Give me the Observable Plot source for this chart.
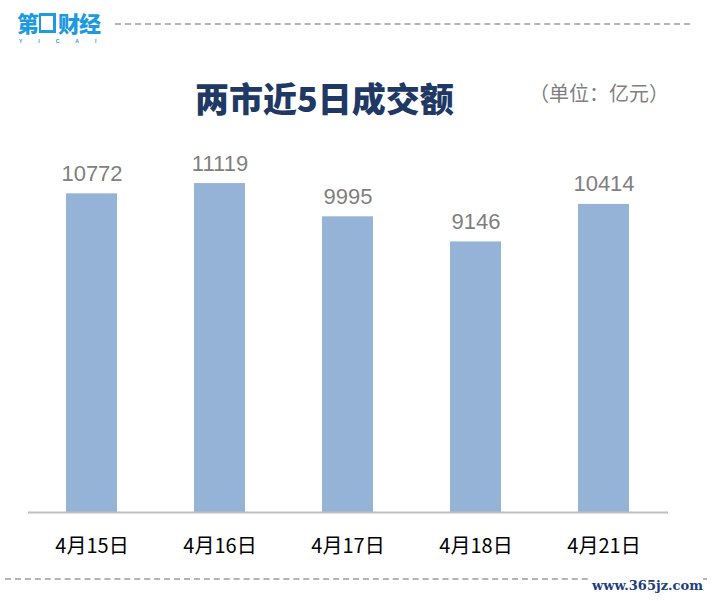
<!DOCTYPE html>
<html>
<head>
<meta charset="utf-8">
<script src="https://cdn.jsdelivr.net/npm/d3@7"></script>
<script src="https://cdn.jsdelivr.net/npm/@observablehq/plot@0.6"></script>
<style>
  html, body { margin: 0; padding: 0; background: #fff; overflow: hidden; }
  #wrap { position: relative; width: 713px; height: 601px; }
  #chart { position: absolute; left: 0; top: 0; }
  .abs { position: absolute; white-space: nowrap; }
  #logo { left: 17px; top: 11px; height: 22px; color: #1e9be0; font-family: "Noto Sans CJK SC"; font-weight: 900; font-size: 22px; line-height: 22px; letter-spacing: -1px; }
  #logo .box { display: inline-block; width: 12px; height: 14px; border: 3px solid #1e9be0; border-left-width: 2px; margin: 0 2px 0 1px; vertical-align: -1px; box-sizing: content-box; }
  #yicai { left: 19px; top: 39px; height: 5px; color: #1e9be0; font-family: "Liberation Sans"; font-size: 5px; line-height: 5px; font-weight: bold; letter-spacing: 16px; }
  #dashTop { left: 115px; top: 23px; width: 575px; height: 0; border-top: 2px dashed #b4b4b4; }
  #dashBot { left: 5px; top: 578px; width: 702px; height: 0; border-top: 2px dashed #b4b4b4; }
  #title { left: 195px; top: 76px; color: #203864; font-family: "Noto Sans CJK SC"; font-weight: 900; font-size: 34px; line-height: 44px; }
  #unit { left: 529px; top: 78px; color: #7f7f7f; font-family: "Noto Sans CJK SC"; font-size: 20px; line-height: 30px; }
  #wm { left: 590px; top: 576px; color: #1f3d7a; font-family: "DejaVu Serif"; font-weight: bold; font-size: 13px; line-height: 20px; background: #fff; padding-left: 2px; }
</style>
</head>
<body>
<div id="wrap">
  <div id="chart"></div>
  <div class="abs" id="logo">第<span class="box"></span>财经</div>
  <div class="abs" id="yicai">YICAI</div>
  <div class="abs" id="dashTop"></div>
  <div class="abs" id="dashBot"></div>
  <div class="abs" id="title">两市近5日成交额</div>
  <div class="abs" id="unit">（单位：亿元）</div>
  <div class="abs" id="wm">www.365jz.com</div>
</div>
<script>
const dates = ["4月15日", "4月16日", "4月17日", "4月18日", "4月21日"];
const values = [10772, 11119, 9995, 9146, 10414];
const data = dates.map((d, i) => ({date: d, value: values[i]}));

const chart = Plot.plot({
  width: 713,
  height: 601,
  marginTop: 157,
  marginBottom: 89,
  marginLeft: 28,
  marginRight: 45,
  style: {fontFamily: "Noto Sans CJK SC", color: "#000", background: "transparent"},
  x: {domain: dates, paddingInner: 0.6, paddingOuter: 0.3, label: null},
  y: {domain: [0, 12000], axis: null},
  marks: [
    Plot.barY(data, {x: "date", y: "value", fill: "#95b3d7"}),
    Plot.ruleY([0], {stroke: "#bfbfbf", strokeWidth: 2}),
    Plot.text(data, {x: "date", y: "value", text: d => String(d.value), dy: -13, lineAnchor: "bottom", fill: "#7f7f7f", fontSize: 22, fontFamily: "Liberation Sans"}),
    Plot.axisX({tickSize: 0, tickPadding: 26, fontSize: 20, fill: "#000", label: null})
  ]
});
document.getElementById("chart").appendChild(chart);
</script>
</body>
</html>
